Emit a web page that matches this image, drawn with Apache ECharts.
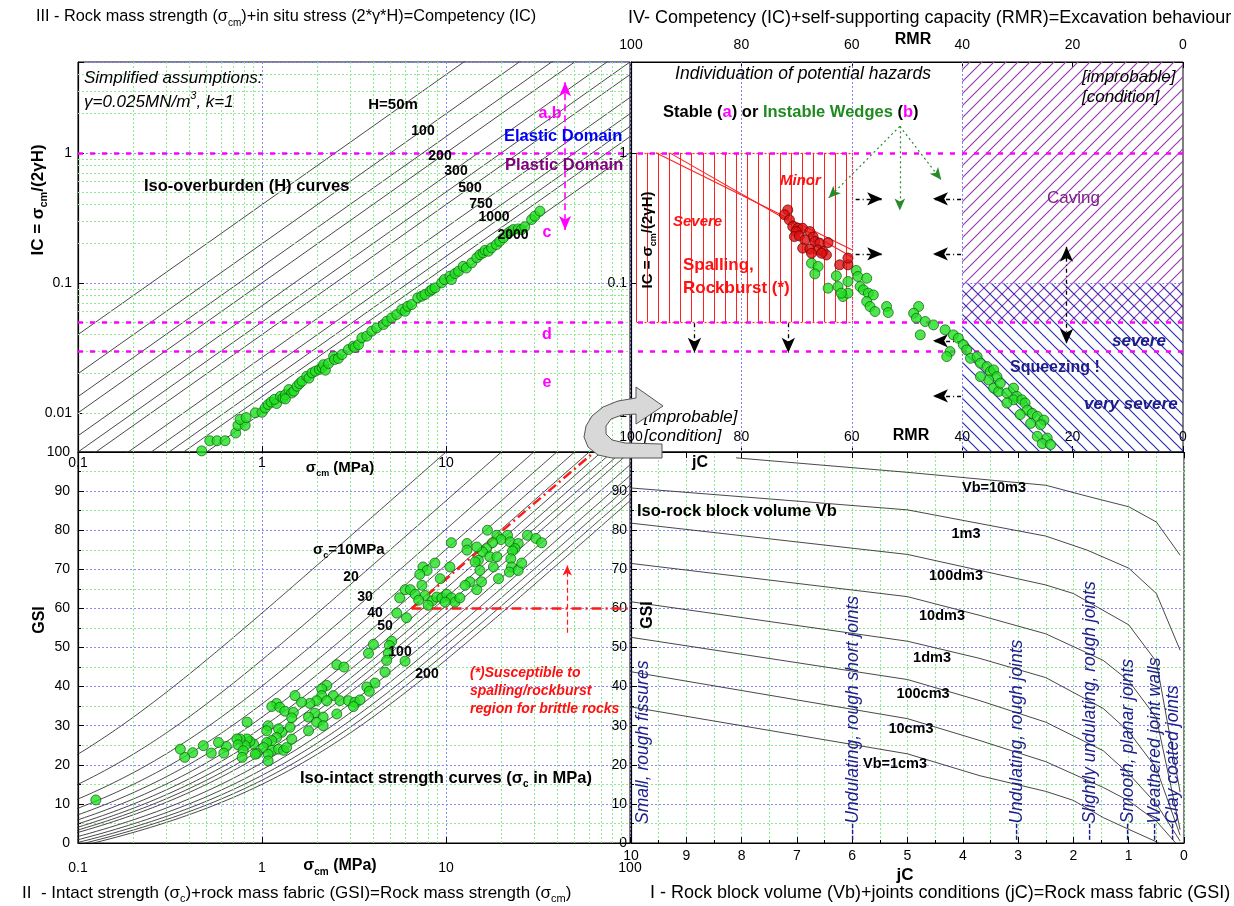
<!DOCTYPE html>
<html>
<head>
<meta charset="utf-8">
<script src="https://cdn.jsdelivr.net/npm/echarts@6/dist/echarts.min.js"></script>
<style>
  html, body { margin: 0; padding: 0; background: #fff; }
  #chart { width: 1234px; height: 906px; }
</style>
</head>
<body>
<div id="chart"></div>
<script>
// ---------- values ----------
// III: iso-overburden lines IC = sigma_cm / (2*gamma*H)
const overburdenH = [50, 100, 150, 200, 300, 400, 500, 750, 1000, 1250, 1500, 2000];
const gammaRock = 0.025; // MN/m3
// II: iso intact strength curves (sigma_c, MPa)
const intactStrength = [10, 20, 30, 40, 50, 60, 70, 80, 90, 100, 120, 140, 160, 180, 200];

// III: [sigma_cm (MPa), IC]
const icPoints = [
  [0.47,0.0051],[0.52,0.0061],[0.57,0.0061],[0.63,0.0061],[0.72,0.0070],[0.74,0.0080],[0.81,0.0080],
  [0.76,0.0089],[0.82,0.0092],[0.92,0.0100],[1.0,0.0101],[1.04,0.0109],[1.08,0.0116],[1.12,0.0121],
  [1.2,0.0118],[1.17,0.0127],[1.26,0.0134],[1.3,0.0130],[1.34,0.0138],[1.40,0.0151],[1.45,0.0142],
  [1.49,0.0147],[1.34,0.0128],[1.55,0.0160],[1.6,0.0168],[1.65,0.0175],[1.75,0.0191],[1.8,0.0185],
  [1.87,0.0203],[1.95,0.0209],[2.05,0.0216],[2.12,0.0222],[2.16,0.0235],[2.21,0.0213],[2.3,0.0240],
  [2.45,0.0273],[2.48,0.0257],[2.6,0.0262],[2.72,0.0281],[2.95,0.0307],[3.14,0.0326],[3.2,0.0318],
  [3.35,0.0335],[3.49,0.0378],[3.71,0.0389],[3.95,0.0425],[4.2,0.0450],[4.57,0.0478],[4.77,0.0507],
  [5.07,0.0538],[5.40,0.0571],[5.75,0.0624],[5.99,0.0605],[6.2,0.0660],[6.51,0.0681],[7.02,0.0767],
  [7.38,0.0790],[7.69,0.0813],[8.19,0.0863],[8.4,0.0890],[8.72,0.0915],[9.47,0.100],[9.80,0.106],
  [10.5,0.1125],[10.7,0.106],[11.2,0.118],[11.7,0.123],[12.4,0.134],[12.9,0.130],[13.8,0.1425],
  [14.7,0.156],[15.3,0.165],[15.9,0.170],[16.3,0.178],[17.0,0.175],[17.7,0.186],[18.8,0.197],
  [19.6,0.209],[20.5,0.222],[21.8,0.242],[22.5,0.250],[23.2,0.257],[24.7,0.260],[25.7,0.257],
  [26.8,0.270],[29.2,0.307],[30.4,0.326],[32.4,0.356]
];

// II: [sigma_cm (MPa), GSI]
const gsiPoints = [
  [16.8,80.0],[18.9,78.7],[21.6,78.7],[19.9,77.6],[17.9,76.8],[16.6,75.3],[15.8,74.4],[13.0,76.6],
  [13.0,74.9],[14.7,75.7],[10.7,76.8],[17.3,73.2],[22.3,77.0],[24.7,76.6],[27.7,78.7],[30.8,77.9],
  [33.1,76.8],[23.7,75.3],[23.0,74.7],[22.5,72.7],[22.7,70.6],[22.1,69.3],[24.7,69.7],[25.8,71.6],
  [18.9,73.2],[18.1,70.6],[19.3,67.6],[15.0,72.3],[14.4,71.9],[15.3,69.7],[13.5,66.8],[12.7,65.9],
  [14.7,64.8],[15.6,66.8],[10.5,70.6],[8.7,71.6],[9.3,67.6],[7.5,70.6],[7.9,69.7],[7.2,68.7],
  [7.4,65.9],[6.0,64.8],[6.4,64.8],[6.8,63.6],[5.6,62.7],[5.4,58.8],[6.1,57.6],[7.7,63.3],
  [8.4,61.9],[8.9,62.9],[9.5,62.7],[10.1,63.6],[10.7,62.7],[11.2,61.6],[11.9,62.7],[8.0,60.8],
  [7.1,62.1],[9.9,61.6],
  [5.07,51.6],[4.92,50.5],[4.03,50.8],[3.79,48.5],[4.86,48.5],[4.76,46.7],[5.99,46.5],[2.55,45.6],
  [2.79,45.0],[4.66,43.7],[4.11,40.9],[3.71,39.9],[3.83,38.8],
  [2.25,40.3],[2.11,39.4],[2.44,37.7],[2.11,37.7],[1.98,36.4],[1.82,35.7],[1.64,36.0],[1.51,37.7],
  [1.20,35.7],[1.13,34.9],[1.25,34.7],[1.33,33.7],[1.48,33.4],[1.94,33.2],[1.79,32.2],[2.25,36.4],
  [2.65,36.4],[2.95,36.4],[3.20,36.0],[3.41,36.6],[3.14,34.9],[2.55,33.0],[2.15,32.2],[1.98,30.9],
  [2.15,30.0],[1.79,28.7],[1.45,32.0],[1.42,29.6],[1.28,28.3],[1.23,29.2],[1.08,30.0],[1.06,28.7],
  [1.20,27.0],[1.13,26.2],[1.06,25.7],[1.02,24.4],[1.13,23.7],[1.23,24.0],[1.31,23.7],[1.36,24.4],
  [1.45,26.6],[0.90,25.3],[0.86,26.0],[0.83,26.6],[0.81,24.9],[0.76,26.6],[0.73,26.6],[0.74,25.1],
  [0.79,23.6],[0.78,21.9],[0.94,22.9],[0.92,22.7],[1.08,22.7],[1.08,21.0],[0.83,30.9],[0.64,24.7],
  [0.58,25.7],[0.53,23.0],[0.62,23.0],[0.48,24.9],[0.42,23.1],[0.38,21.9],[0.36,24.0],[0.125,11.0]
];

// IV: [RMR, IC]
const rmrRedPoints = [
  [71.6,0.364],[72.2,0.334],[71.3,0.305],[70.7,0.271],[69.8,0.263],[68.9,0.263],[70.1,0.248],
  [67.6,0.248],[70.4,0.227],[69.5,0.230],[67.0,0.225],[68.5,0.214],[66.7,0.208],[65.8,0.202],
  [64.3,0.204],[68.9,0.185],[67.6,0.182],[66.1,0.179],[65.2,0.174],[64.6,0.164],[62.2,0.1376],
  [60.7,0.1376],[60.7,0.155],[67.3,0.169],[65.5,0.169]
];
const rmrGreenPoints = [
  [67.3,0.1417],[66.1,0.1335],[66.7,0.1173],[64.3,0.091],[62.8,0.1132],[62.5,0.0937],[61.6,0.0785],
  [60.7,0.0833],[60.7,0.1024],[61.9,0.0833],[59.2,0.1245],[58.9,0.1119],[57.3,0.1086],[58.5,0.0937],
  [57.9,0.0883],[57.0,0.0833],[56.1,0.0808],[57.3,0.0719],[56.7,0.0658],[55.8,0.0602],[53.7,0.0658],
  [53.4,0.0591],[47.9,0.0658],[48.8,0.0584],[48.3,0.0535],[46.7,0.0504],[45.2,0.0475],[47.6,0.0398],
  [43.1,0.0435],[41.6,0.0398],[40.7,0.0375],[42.2,0.0296],[42.8,0.0271],[39.8,0.0334],[39.2,0.0305],
  [38.5,0.0263],[37.3,0.0271],[36.7,0.0241],[35.5,0.0227],[34.9,0.0208],[34.3,0.0214],[33.7,0.019],
  [35.2,0.0179],[34.3,0.0155],[33.4,0.0146],[31.9,0.0142],[30.7,0.0155],[30.1,0.0134],[30.7,0.0126],
  [29.2,0.0126],[28.6,0.0119],[28.2,0.0105],[27.3,0.0099],[26.4,0.0094],[25.2,0.0088],[29.5,0.0097],
  [27.6,0.0083],[25.8,0.0081],[26.4,0.0066],[24.6,0.0064],[25.5,0.0058],[24.0,0.0057],[36.7,0.019],
  [33.1,0.0169],[31.9,0.0119]
];

// I: iso rock block volume curves, [jC, GSI]
const vbNames = ['Vb=10m3', '1m3', '100dm3', '10dm3', '1dm3', '100cm3', '10cm3', 'Vb=1cm3'];
const vbCurves = [
  [[8.1,98.5],[5,94.8],[2.5,91.5],[1.7,88.5],[1,86],[0.5,82.1],[0.07,73.6]],
  [[10,90.8],[5,85.2],[2.5,78.5],[1.75,74.9],[1,70.3],[0.5,63.8],[0.07,49.3]],
  [[10,81.8],[5,73.8],[2.5,66.0],[2,63.8],[1,55.8],[0.5,46.4],[0.07,13]],
  [[10,71.5],[5,63],[3.69,58.2],[2.5,53.5],[1.46,46.7],[1,41.5],[0.5,32],[0.07,3.4]],
  [[10,61.7],[5,51.6],[3.69,47.2],[2.5,42.3],[1.46,34.4],[1,28.5],[0.5,19.1],[0.07,2]],
  [[10,52.6],[5,41.8],[3.69,36.4],[2.5,30.9],[1.46,23.6],[1,17.7],[0.5,10],[0.07,0.5]],
  [[10,43.8],[5,31.8],[3.69,26.2],[2.5,20.8],[1.46,14.2],[1,10.8],[0.5,5.6],[0.15,0]],
  [[10,34.8],[5,22.8],[3.69,17.2],[2.5,13.2],[2,10.9],[1.46,6.5],[1,3.5],[0.45,0]]
];
const jointLabels = [
  'Small, rough fissures', '---Undulating, rough short joints', '---Undulating, rough joints',
  '---Slightly undulating, rough joints', '---Smooth, planar joints', '---Weathered joint walls',
  '---Clay coated joints'
];
const jointLabelX = [643, 853, 1017, 1090, 1128, 1155, 1173];

// ---------- helpers ----------
const FF = '"Liberation Sans", Arial, sans-serif';
const PINK = '#ff00ff', BLUEGRID = '#8a8aff', GREENGRID = '#8fe88f';
const NAVY = '#1c1c8c';

function decadeLabel(v) {
  const l = Math.log10(v), e = Math.round(l);
  if (Math.abs(l - e) > 1e-6) return '';
  return e >= 0 ? String(Math.pow(10, e)) : Math.pow(10, e).toFixed(-e);
}
function minorLog(lo, hi) {
  const out = [];
  for (let d = lo; d < hi; d *= 10) for (let k = 2; k <= 9; k++) out.push(+(d * k).toPrecision(3));
  return out;
}
function hbSigmaCm(sc, gsi) {
  const s = Math.exp((gsi - 100) / 9);
  const a = 0.5 + (Math.exp(-gsi / 15) - Math.exp(-20 / 3)) / 6;
  return sc * Math.pow(s, a);
}
function hatch(color, kind, step, w) {
  const c = document.createElement('canvas');
  c.width = step; c.height = step;
  const g = c.getContext('2d');
  g.strokeStyle = color; g.lineWidth = w || 1;
  g.beginPath();
  if (kind === '/') {
    g.moveTo(-1, step + 1); g.lineTo(step + 1, -1);
    g.moveTo(-step / 2, step / 2); g.lineTo(step / 2, -step / 2);
    g.moveTo(step / 2, step * 1.5); g.lineTo(step * 1.5, step / 2);
  } else {
    g.moveTo(-1, -1); g.lineTo(step + 1, step + 1);
    g.moveTo(-step / 2, step / 2); g.lineTo(step / 2, step * 1.5);
    g.moveTo(step / 2, -step / 2); g.lineTo(step * 1.5, step / 2);
  }
  g.stroke();
  return { image: c, repeat: 'repeat' };
}
function T(x, y, text, o) {
  o = o || {};
  const font = (o.it ? 'italic ' : '') + (o.b ? 'bold ' : '') + (o.size || 14) + 'px ' + FF;
  return {
    type: 'text', x: x, y: y, rotation: o.rot || 0, z: o.z || 60,
    style: {
      text: text, fill: o.color || '#000', font: font,
      align: o.align || 'left', textAlign: o.align || 'left',
      verticalAlign: 'middle', textVerticalAlign: 'middle',
      rich: o.rich
    }
  };
}
function tok(size, b, color, it, va) {
  return { fontSize: size, fontWeight: b ? 'bold' : 'normal', fontStyle: it ? 'italic' : 'normal',
    fontFamily: FF, fill: color || '#000', color: color || '#000', verticalAlign: va || 'middle' };
}
function richSub(size, b, color, it) {
  const sub = Math.round(size * 0.62);
  return {
    n: Object.assign(tok(size, b, color, it), { lineHeight: size + 6 }),
    s: Object.assign(tok(sub, b, color, it, 'bottom'), { lineHeight: size + 6 }),
    p: Object.assign(tok(sub, b, color, it, 'top'), { lineHeight: size + 6 })
  };
}
function seg(from, to) { return [{ coord: from }, { coord: to }]; }

const chart = echarts.init(document.getElementById('chart'), null, { renderer: 'canvas' });

const gridBase = { show: true, borderColor: '#000', borderWidth: 1, backgroundColor: 'transparent', containLabel: false };
const dotted = (c, w) => ({ show: true, lineStyle: { color: c, type: [2, 2], width: w || 1 } });
const axisLineBlack = { show: true, onZero: false, lineStyle: { color: '#000', width: 1.2 } };
const labelStyle = { color: '#000', fontSize: 14, fontFamily: FF };
const tickIn = { inside: true, length: 6, lineStyle: { color: '#000' } };

const xAxis = [
  { // 0: III sigma_cm
    type: 'log', logBase: 10, gridIndex: 0, min: 0.1, max: 100, position: 'bottom',
    axisLine: axisLineBlack, axisTick: tickIn,
    axisLabel: Object.assign({}, labelStyle, { margin: 4, formatter: v => (v > 50 ? '' : decadeLabel(v)) }),
    splitLine: dotted(BLUEGRID)
  },
  { // 1: IV RMR top
    type: 'value', gridIndex: 1, min: 0, max: 100, interval: 20, inverse: true, position: 'top',
    axisLine: axisLineBlack, axisTick: tickIn,
    axisLabel: Object.assign({}, labelStyle, { margin: 10 }),
    splitLine: { show: false }
  },
  { // 2: II sigma_cm
    type: 'log', logBase: 10, gridIndex: 2, min: 0.1, max: 100, position: 'bottom',
    axisLine: axisLineBlack, axisTick: tickIn,
    axisLabel: Object.assign({}, labelStyle, { margin: 18, formatter: decadeLabel }),
    splitLine: dotted(BLUEGRID)
  },
  { // 3: I jC bottom
    type: 'value', gridIndex: 3, min: 0, max: 10, interval: 1, inverse: true, position: 'bottom',
    axisLine: axisLineBlack, axisTick: tickIn,
    minorTick: { show: true, splitNumber: 2, length: 3, lineStyle: { color: '#000' } },
    axisLabel: Object.assign({}, labelStyle, { margin: 6 }),
    splitLine: dotted(GREENGRID), minorSplitLine: dotted(GREENGRID)
  },
  { // 4: IV RMR bottom, labels inside
    type: 'value', gridIndex: 1, min: 0, max: 100, interval: 20, inverse: true, position: 'bottom',
    axisLine: axisLineBlack, axisTick: tickIn,
    axisLabel: Object.assign({}, labelStyle, { inside: true, margin: 8 }),
    splitLine: { show: false }
  },
  { // 5: I jC top (ticks only)
    type: 'value', gridIndex: 3, min: 0, max: 10, interval: 1, inverse: true, position: 'top',
    axisLine: axisLineBlack, axisTick: tickIn,
    axisLabel: { show: false }, splitLine: { show: false }
  }
];

const yAxis = [
  { // 0: III IC
    type: 'log', logBase: 10, gridIndex: 0, min: 0.005, max: 5, position: 'left',
    axisLine: axisLineBlack, axisTick: tickIn,
    axisLabel: Object.assign({}, labelStyle, { margin: 6, formatter: decadeLabel }),
    splitLine: dotted(BLUEGRID)
  },
  { // 1: IV IC
    type: 'log', logBase: 10, gridIndex: 1, min: 0.005, max: 5, position: 'left',
    axisLine: axisLineBlack, axisTick: tickIn,
    axisLabel: Object.assign({}, labelStyle, { margin: 4, formatter: decadeLabel }),
    splitLine: { show: false }
  },
  { // 2: II GSI
    type: 'value', gridIndex: 2, min: 0, max: 100, interval: 10, position: 'left',
    axisLine: axisLineBlack, axisTick: tickIn,
    minorTick: { show: true, splitNumber: 2, length: 3, lineStyle: { color: '#000' } },
    axisLabel: Object.assign({}, labelStyle, { margin: 8 }),
    splitLine: dotted(BLUEGRID), minorSplitLine: dotted(GREENGRID)
  },
  { // 3: I GSI
    type: 'value', gridIndex: 3, min: 0, max: 100, interval: 10, position: 'left',
    axisLine: axisLineBlack, axisTick: tickIn,
    minorTick: { show: true, splitNumber: 2, length: 3, lineStyle: { color: '#000' } },
    axisLabel: Object.assign({}, labelStyle, { margin: 4, formatter: v => (v === 100 ? '' : v) }),
    splitLine: dotted(BLUEGRID), minorSplitLine: dotted(GREENGRID)
  }
];

const series = [];
const quiet = { silent: true, animation: false };
const mlBase = { silent: true, symbol: 'none', label: { show: false }, animation: false };
const greenDot = { color: '#22e022', borderColor: '#0b5e0b', borderWidth: 0.9 };

// ----- III -----
const logMinorX = minorLog(0.1, 100);
const logMinorY = minorLog(0.001, 10).filter(v => v > 0.005 && v < 5);
series.push(Object.assign({
  type: 'line', xAxisIndex: 0, yAxisIndex: 0, data: [], z: 1,
  markLine: Object.assign({}, mlBase, {
    lineStyle: { color: GREENGRID, type: [2, 2], width: 1 },
    data: logMinorX.map(v => ({ xAxis: v })).concat(logMinorY.map(v => ({ yAxis: v })))
  })
}, quiet));
overburdenH.forEach(h => {
  const k = 1 / (2 * gammaRock * h);
  series.push(Object.assign({
    type: 'line', xAxisIndex: 0, yAxisIndex: 0, symbol: 'none', z: 2, clip: true,
    lineStyle: { color: '#333', width: 0.9 },
    data: [[0.1, 0.1 * k], [100, 100 * k]]
  }, quiet));
});
series.push(Object.assign({
  type: 'line', xAxisIndex: 0, yAxisIndex: 0, data: [], z: 3,
  markLine: Object.assign({}, mlBase, {
    lineStyle: { color: PINK, type: [5, 7], width: 2.6 },
    data: [{ yAxis: 1 }, { yAxis: 0.05 }, { yAxis: 0.025 }]
  })
}, quiet));
series.push(Object.assign({
  type: 'line', xAxisIndex: 0, yAxisIndex: 0, data: [], z: 3,
  markLine: Object.assign({}, mlBase, {
    lineStyle: { color: PINK, type: [7, 4], width: 1.6 },
    itemStyle: { color: PINK },
    data: [[{ coord: [44.4, 3.5], symbol: 'arrow', symbolSize: [9, 14] },
            { coord: [44.4, 0.255], symbol: 'arrow', symbolSize: [9, 14] }]]
  })
}, quiet));
series.push({
  type: 'scatter', xAxisIndex: 0, yAxisIndex: 0, data: icPoints, symbolSize: 10, z: 5,
  itemStyle: greenDot, silent: true
});

// ----- IV -----
series.push(Object.assign({
  type: 'line', xAxisIndex: 1, yAxisIndex: 1, data: [], z: 1,
  markArea: {
    silent: true, label: { show: false },
    data: [
      [{ coord: [40, 0.05], itemStyle: { color: hatch('#9a3fb0', '/', 12, 1.2) } }, { coord: [0, 5] }],
      [{ coord: [40, 0.003], itemStyle: { color: hatch('#2e2eb0', '\\', 12, 1.2) } }, { coord: [0, 0.1] }]
    ]
  },
  markLine: Object.assign({}, mlBase, {
    lineStyle: { color: '#8080ff', type: [2, 2], width: 1 },
    data: [{ xAxis: 80 }, { xAxis: 60 }, { xAxis: 40 }, seg([40, 0.1], [0, 0.1])]
  })
}, quiet));
// red vertical hatching of the spalling / rockburst box (RMR 99..61, IC 0.05..1)
const redHatch = [];
for (let r = 99; r > 60; r -= 2) redHatch.push(seg([r, 1], [r, 0.05]));
series.push(Object.assign({
  type: 'line', xAxisIndex: 1, yAxisIndex: 1, data: [], z: 2,
  markLine: Object.assign({}, mlBase, {
    lineStyle: { color: '#ff2020', type: 'solid', width: 1 },
    data: redHatch
  })
}, quiet));
series.push(Object.assign({
  type: 'line', xAxisIndex: 1, yAxisIndex: 1, data: [], z: 2,
  markLine: Object.assign({}, mlBase, {
    lineStyle: { color: '#ff3030', type: [2, 2], width: 1.2 },
    data: [seg([99, 1], [60, 1]), seg([99, 0.05], [60, 0.05]), seg([60, 1], [60, 0.05])]
  })
}, quiet));
series.push(Object.assign({
  type: 'line', xAxisIndex: 1, yAxisIndex: 1, data: [], z: 3,
  markLine: Object.assign({}, mlBase, {
    lineStyle: { color: PINK, type: [5, 7], width: 2.6 },
    data: [{ yAxis: 1 }, { yAxis: 0.05 }, { yAxis: 0.025 }]
  })
}, quiet));
[[[95.5, 1], [60, 0.18]], [[93, 1], [60, 0.158]]].forEach(d => {
  series.push(Object.assign({
    type: 'line', xAxisIndex: 1, yAxisIndex: 1, symbol: 'none', z: 4, data: d,
    lineStyle: { color: '#ff2020', width: 1.1 }
  }, quiet));
});
// black and green arrows (annotation positions, RMR / IC)
const arrowEnd = { symbol: 'arrow', symbolSize: [10, 15] };
series.push(Object.assign({
  type: 'line', xAxisIndex: 1, yAxisIndex: 1, data: [], z: 6,
  markLine: Object.assign({}, mlBase, {
    lineStyle: { color: '#000', type: [4, 3, 1, 3], width: 1.3 },
    itemStyle: { color: '#000' },
    data: [
      [{ coord: [59.3, 0.443] }, Object.assign({ coord: [54.5, 0.443] }, arrowEnd)],
      [{ coord: [59.3, 0.167] }, Object.assign({ coord: [54.5, 0.167] }, arrowEnd)],
      [{ coord: [40.2, 0.443] }, Object.assign({ coord: [45.3, 0.443] }, arrowEnd)],
      [{ coord: [40.2, 0.167] }, Object.assign({ coord: [45.3, 0.167] }, arrowEnd)],
      [{ coord: [40.2, 0.0358] }, Object.assign({ coord: [45.3, 0.0358] }, arrowEnd)],
      [{ coord: [40.2, 0.0135] }, Object.assign({ coord: [45.3, 0.0135] }, arrowEnd)],
      [{ coord: [88.5, 0.049] }, Object.assign({ coord: [88.5, 0.029] }, arrowEnd)],
      [{ coord: [71.5, 0.049] }, Object.assign({ coord: [71.5, 0.029] }, arrowEnd)],
      [Object.assign({ coord: [21.1, 0.19] }, arrowEnd), Object.assign({ coord: [21.1, 0.034] }, arrowEnd)]
    ]
  })
}, quiet));
series.push(Object.assign({
  type: 'line', xAxisIndex: 1, yAxisIndex: 1, data: [], z: 6,
  markLine: Object.assign({}, mlBase, {
    lineStyle: { color: '#2a8a2a', type: [2, 3], width: 1.2 },
    itemStyle: { color: '#2a8a2a' },
    data: [
      [{ coord: [51.3, 1.6] }, { coord: [64.2, 0.45], symbol: 'arrow', symbolSize: [8, 12] }],
      [{ coord: [51.3, 1.6] }, { coord: [51.3, 0.36], symbol: 'arrow', symbolSize: [8, 12] }],
      [{ coord: [51.3, 1.6] }, { coord: [43.8, 0.62], symbol: 'arrow', symbolSize: [8, 12] }]
    ]
  })
}, quiet));
series.push({
  type: 'scatter', xAxisIndex: 1, yAxisIndex: 1, data: rmrGreenPoints, symbolSize: 10, z: 7,
  itemStyle: greenDot, silent: true
});
series.push({
  type: 'scatter', xAxisIndex: 1, yAxisIndex: 1, data: rmrRedPoints, symbolSize: 10, z: 8,
  itemStyle: { color: '#e01010', borderColor: '#5a0000', borderWidth: 0.9 }, silent: true
});

// ----- II -----
series.push(Object.assign({
  type: 'line', xAxisIndex: 2, yAxisIndex: 2, data: [], z: 1,
  markLine: Object.assign({}, mlBase, {
    lineStyle: { color: GREENGRID, type: [2, 2], width: 1 },
    data: logMinorX.map(v => ({ xAxis: v }))
  })
}, quiet));
const gsiSteps = [];
for (let g = 0; g <= 100; g += 0.5) gsiSteps.push(g);
intactStrength.forEach(sc => {
  series.push(Object.assign({
    type: 'line', xAxisIndex: 2, yAxisIndex: 2, symbol: 'none', z: 2, clip: true,
    lineStyle: { color: '#333', width: 0.9 },
    data: gsiSteps.map(g => [hbSigmaCm(sc, g), g])
  }, quiet));
});
series.push(Object.assign({
  type: 'line', xAxisIndex: 2, yAxisIndex: 2, data: [], z: 4,
  markLine: Object.assign({}, mlBase, {
    lineStyle: { color: '#ff1a1a', type: [10, 4, 2, 4], width: 2.6 },
    data: [seg([6.5, 60], [64, 100]), seg([6.5, 60], [100, 60])]
  })
}, quiet));
series.push(Object.assign({
  type: 'line', xAxisIndex: 2, yAxisIndex: 2, data: [], z: 4,
  markLine: Object.assign({}, mlBase, {
    lineStyle: { color: '#ff1a1a', type: [5, 3], width: 1.2 },
    itemStyle: { color: '#ff1a1a' },
    data: [[{ coord: [45.6, 53.8] }, { coord: [45.6, 71], symbol: 'arrow', symbolSize: [7, 10] }]]
  })
}, quiet));
series.push({
  type: 'scatter', xAxisIndex: 2, yAxisIndex: 2, data: gsiPoints, symbolSize: 10, z: 5,
  itemStyle: greenDot, silent: true
});

// ----- I -----
vbCurves.forEach(c => {
  series.push(Object.assign({
    type: 'line', xAxisIndex: 3, yAxisIndex: 3, symbol: 'none', z: 2, clip: true,
    lineStyle: { color: '#333', width: 0.9 }, data: c
  }, quiet));
});

// ---------- text and drawings ----------
const rs15b = richSub(15, true);
const graphic = [
  T(36, 17, '{n|III - Rock mass strength (σ}{s|cm}{n|)+in situ stress (2*γ*H)=Competency (IC)}', { rich: richSub(16.3, false) }),
  T(628, 18, 'IV- Competency (IC)+self-supporting capacity (RMR)=Excavation behaviour', { size: 18 }),
  T(22, 893, '{n|II  - Intact strength (σ}{s|c}{n|)+rock mass fabric (GSI)=Rock mass strength (σ}{s|cm}{n|)}', { rich: richSub(17, false) }),
  T(650, 893, 'I - Rock block volume (Vb)+joints conditions (jC)=Rock mass fabric (GSI)', { size: 18 }),

  // III
  T(84, 78, 'Simplified assumptions:', { it: true, size: 17 }),
  T(84, 102, '{n|γ=0.025MN/m}{p|3}{n|, k=1}', { rich: richSub(17, false, '#000', true) }),
  T(393, 105, 'H=50m', { b: true, size: 15, align: 'center' }),
  T(423, 131, '100', { b: true, size: 14, align: 'center' }),
  T(440, 156, '200', { b: true, size: 14, align: 'center' }),
  T(456, 171, '300', { b: true, size: 14, align: 'center' }),
  T(470, 188, '500', { b: true, size: 14, align: 'center' }),
  T(481, 204, '750', { b: true, size: 14, align: 'center' }),
  T(494, 217, '1000', { b: true, size: 14, align: 'center' }),
  T(513, 235, '2000', { b: true, size: 14, align: 'center' }),
  T(144, 186, 'Iso-overburden (H) curves', { b: true, size: 16.5 }),
  T(550, 114, 'a,b', { b: true, size: 16, color: PINK, align: 'center' }),
  T(504, 136, 'Elastic Domain', { b: true, size: 16.5, color: '#0000ff' }),
  T(505, 165, 'Plastic Domain', { b: true, size: 16.5, color: '#800080' }),
  T(547, 233, 'c', { b: true, size: 16, color: PINK, align: 'center' }),
  T(547, 335, 'd', { b: true, size: 16, color: PINK, align: 'center' }),
  T(547, 383, 'e', { b: true, size: 16, color: PINK, align: 'center' }),
  T(38, 200, '{n|IC = σ}{s|cm}{n|/(2γH)}', { rich: richSub(17, true), rot: Math.PI / 2, align: 'center' }),
  T(340, 468, '{n|σ}{s|cm}{n| (MPa)}', { rich: rs15b, align: 'center' }),

  // IV
  T(913, 40, 'RMR', { b: true, size: 16, align: 'center' }),
  T(803, 74, 'Individuation of potential hazards', { it: true, size: 17.5, align: 'center' }),
  T(663, 112, '{k|Stable (}{m|a}{k|) or }{g|Instable Wedges}{k| (}{m|b}{k|)}', {
    rich: { k: tok(16.5, true, '#000'), m: tok(16.5, true, PINK), g: tok(16.5, true, '#1f8a1f') }
  }),
  T(1082, 77, '[improbable]', { it: true, size: 17 }),
  T(1082, 97, '[condition]', { it: true, size: 17 }),
  T(1047, 198, 'Caving', { size: 17, color: '#80208a' }),
  T(780, 181, 'Minor', { it: true, b: true, size: 15, color: '#ff1010' }),
  T(673, 222, 'Severe', { it: true, b: true, size: 15, color: '#ff1010' }),
  T(683, 265, 'Spalling,', { b: true, size: 17, color: '#ff1010' }),
  T(683, 288, 'Rockburst (*)', { b: true, size: 17, color: '#ff1010' }),
  T(648, 240, '{n|IC = σ}{s|cm}{n|/(2γH)}', { rich: rs15b, rot: Math.PI / 2, align: 'center' }),
  T(1112, 341, 'severe', { it: true, b: true, size: 17, color: NAVY }),
  T(1010, 368, 'Squeezing !', { b: true, size: 16, color: NAVY }),
  T(1084, 404, 'very severe', { it: true, b: true, size: 17, color: NAVY }),
  T(644, 417, '[improbable]', { it: true, size: 17 }),
  T(644, 436, '[condition]', { it: true, size: 17 }),
  T(911, 436, 'RMR', { b: true, size: 16, align: 'center' }),

  // II
  T(313, 550, '{n|σ}{s|c}{n|=10MPa}', { rich: rs15b }),
  T(351, 577, '20', { b: true, size: 14, align: 'center' }),
  T(365, 597, '30', { b: true, size: 14, align: 'center' }),
  T(375, 613, '40', { b: true, size: 14, align: 'center' }),
  T(385, 626, '50', { b: true, size: 14, align: 'center' }),
  T(400, 652, '100', { b: true, size: 14, align: 'center' }),
  T(427, 674, '200', { b: true, size: 14, align: 'center' }),
  T(300, 778, '{n|Iso-intact strength curves (σ}{s|c}{n| in MPa)}', { rich: richSub(16.5, true) }),
  T(470, 673, '(*)Susceptible to', { it: true, b: true, size: 14, color: '#ff1010' }),
  T(470, 691, 'spalling/rockburst', { it: true, b: true, size: 14, color: '#ff1010' }),
  T(470, 709, 'region for brittle rocks', { it: true, b: true, size: 14, color: '#ff1010' }),
  T(40, 620, 'GSI', { b: true, size: 16, rot: Math.PI / 2, align: 'center' }),
  T(340, 866, '{n|σ}{s|cm}{n| (MPa)}', { rich: richSub(16, true), align: 'center' }),

  // I
  T(700, 463, 'jC', { b: true, size: 16, align: 'center' }),
  T(905, 875, 'jC', { b: true, size: 17, align: 'center' }),
  T(648, 615, 'GSI', { b: true, size: 16, rot: Math.PI / 2, align: 'center' }),
  T(637, 511, 'Iso-rock block volume Vb', { b: true, size: 16.5 }),
  T(994, 488, vbNames[0], { b: true, size: 14.5, align: 'center' }),
  T(966, 534, vbNames[1], { b: true, size: 14.5, align: 'center' }),
  T(956, 576, vbNames[2], { b: true, size: 14.5, align: 'center' }),
  T(942, 616, vbNames[3], { b: true, size: 14.5, align: 'center' }),
  T(932, 658, vbNames[4], { b: true, size: 14.5, align: 'center' }),
  T(923, 694, vbNames[5], { b: true, size: 14.5, align: 'center' }),
  T(911, 729, vbNames[6], { b: true, size: 14.5, align: 'center' }),
  T(895, 764, vbNames[7], { b: true, size: 14.5, align: 'center' })
];
jointLabels.forEach((s, i) => {
  graphic.push(T(jointLabelX[i], i === 0 ? 824 : 841, s, { it: true, size: 17.5, color: NAVY, rot: Math.PI / 2 }));
});
// gray curved arrow linking the quadrants
graphic.push({
  type: 'polygon', z: 100,
  shape: { points: [[662,458],[612,458],[598,455],[588,447],[584,437],[586,426],[592,416],[603,407],
    [618,401],[636,398],[636,387],[663,406],[636,424],[636,414],[622,415],[611,419],[606,426],
    [606,434],[612,440],[625,443],[662,444]] },
  style: { fill: '#d8d8d8', stroke: '#555', lineWidth: 1 }
});

chart.setOption({
  animation: false,
  backgroundColor: '#fff',
  textStyle: { fontFamily: FF },
  grid: [
    Object.assign({}, gridBase, { left: 78, top: 62, width: 552, height: 390 }),
    Object.assign({}, gridBase, { left: 631, top: 62, width: 552, height: 390, backgroundColor: '#fff' }),
    Object.assign({}, gridBase, { left: 78, top: 452, width: 552, height: 391 }),
    Object.assign({}, gridBase, { left: 631, top: 452, width: 553, height: 391 })
  ],
  xAxis: xAxis,
  yAxis: yAxis,
  series: series,
  graphic: graphic
});
</script>
</body>
</html>
